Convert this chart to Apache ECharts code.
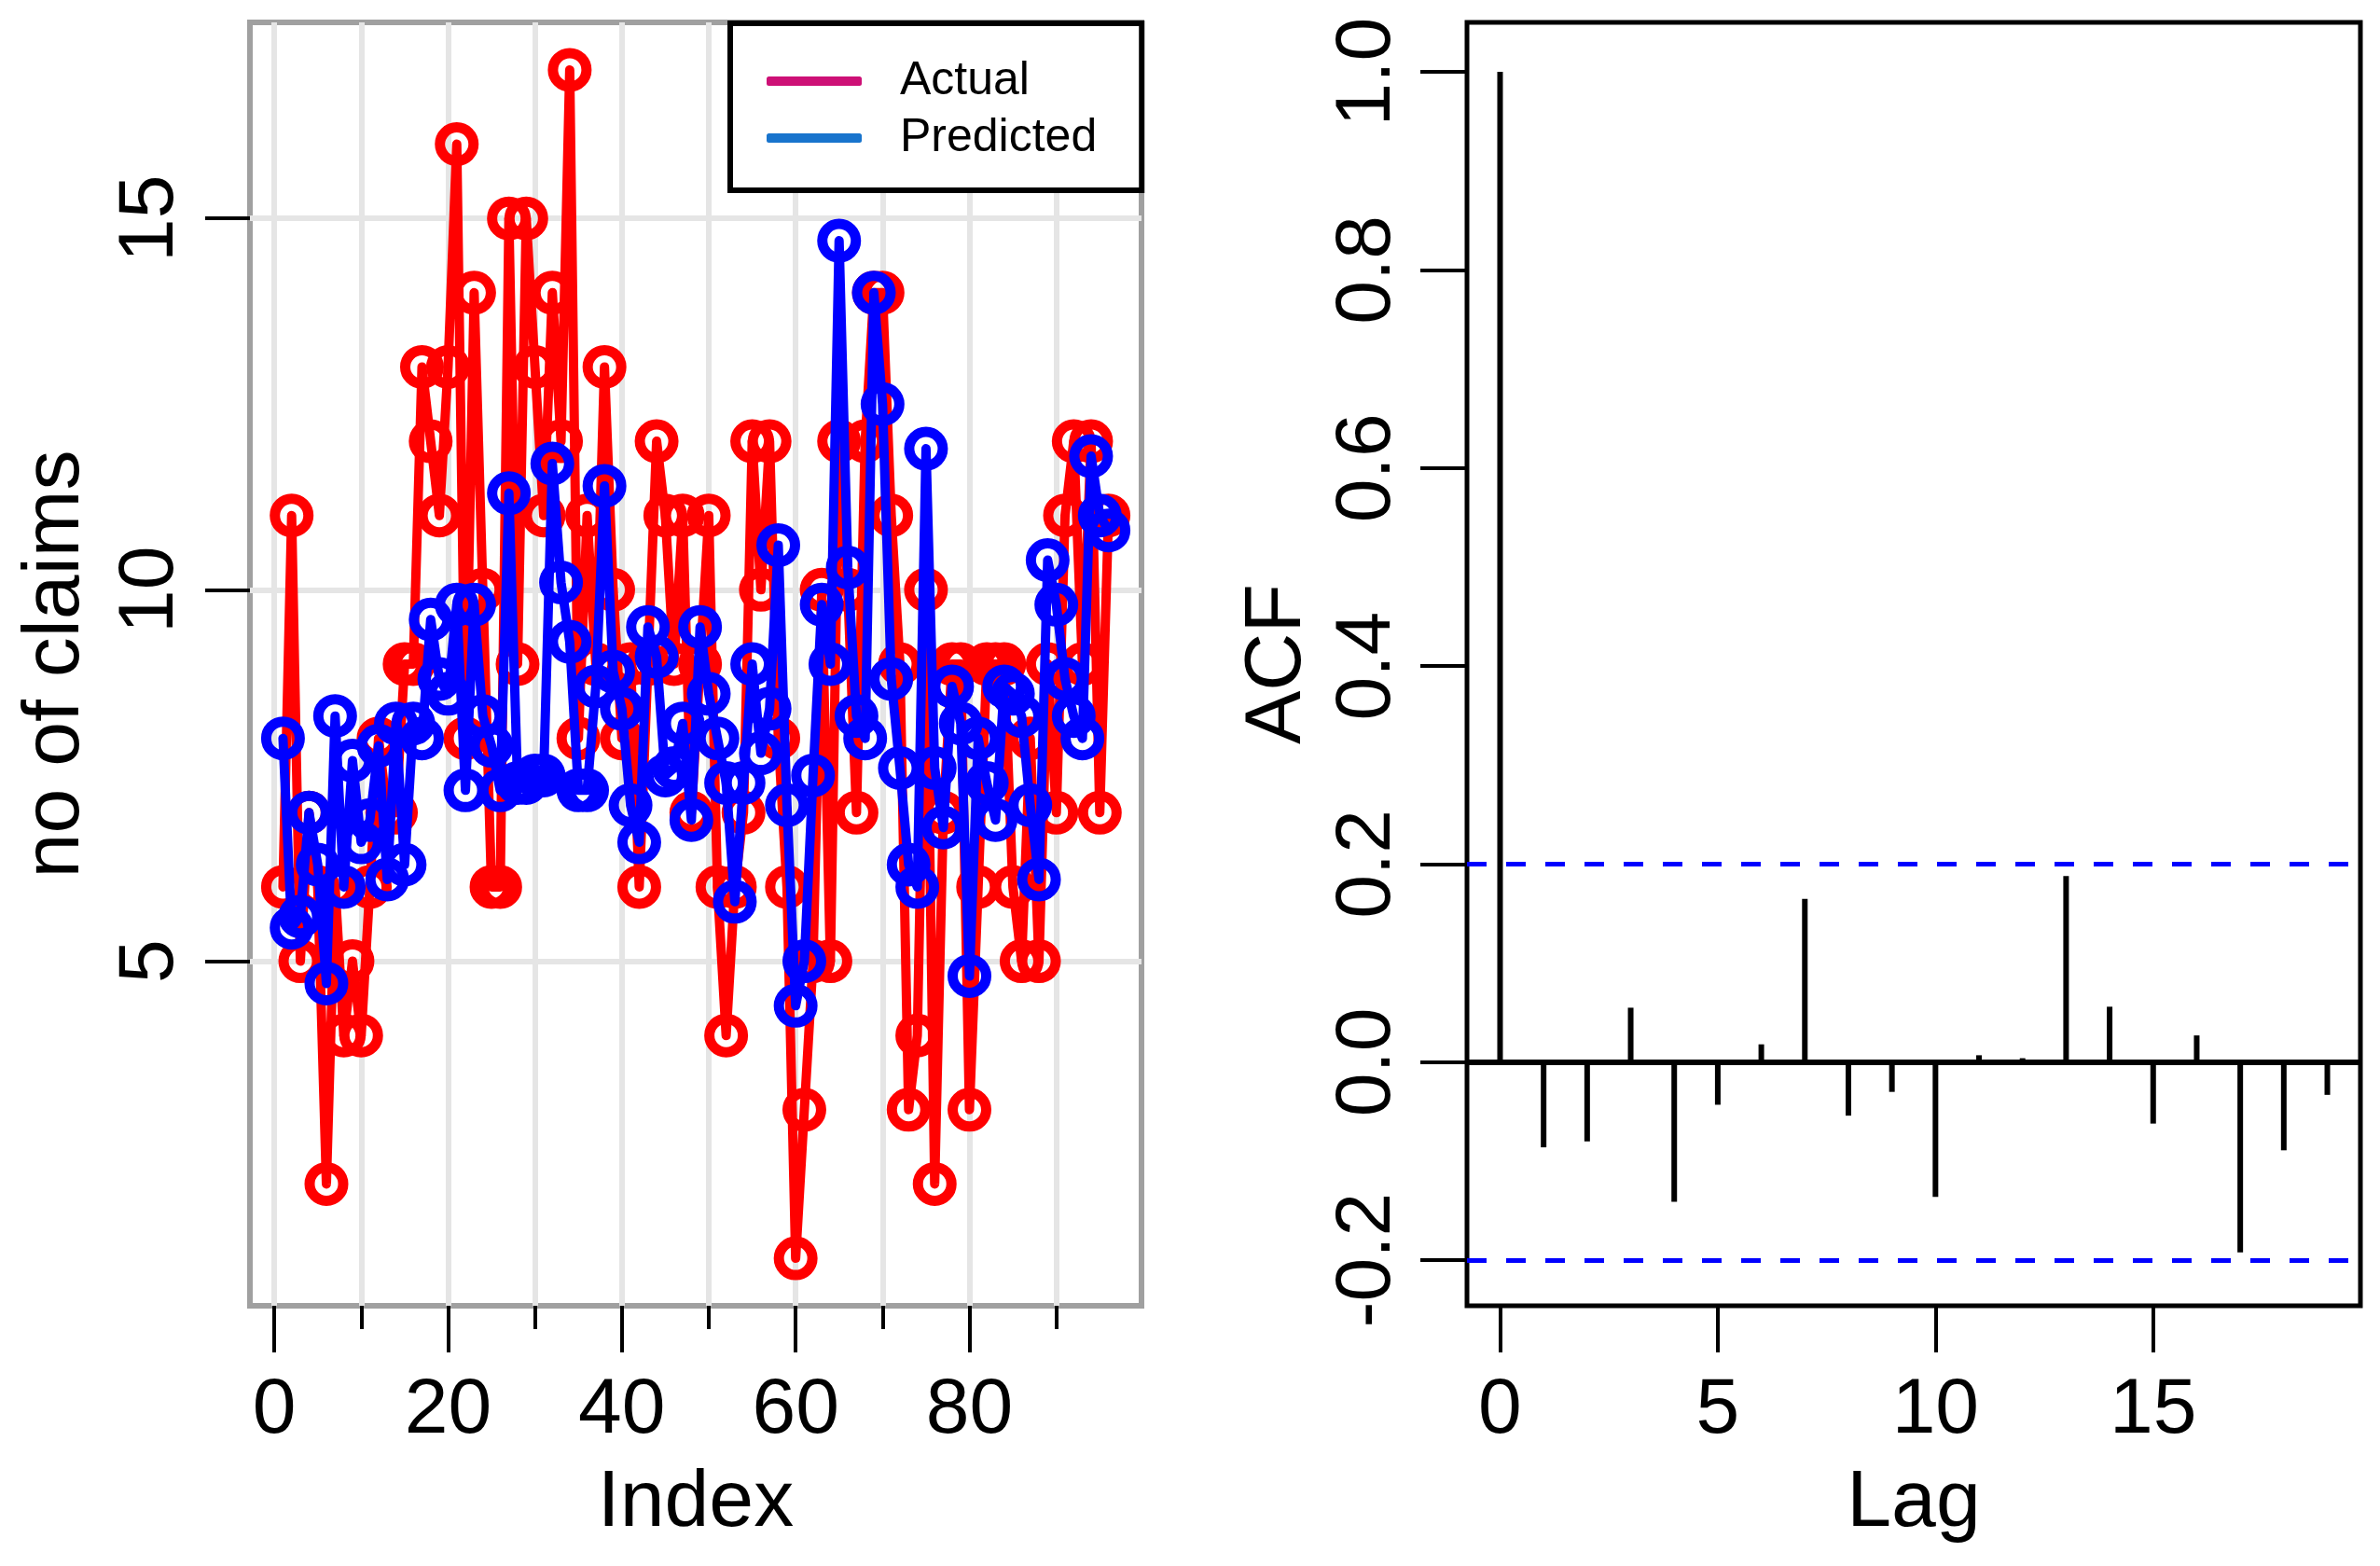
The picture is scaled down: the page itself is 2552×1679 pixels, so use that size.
<!DOCTYPE html>
<html>
<head>
<meta charset="utf-8">
<title>no of claims - actual vs predicted, ACF</title>
<script src="https://cdn.jsdelivr.net/npm/echarts@6/dist/echarts.min.js"></script>
<style>
  html, body { margin: 0; padding: 0; background: #fff; }
  #main { width: 2552px; height: 1679px; }
</style>
</head>
<body>
<div id="main"></div>
<script>
// left panel: claims per index
var index = [1,2,3,4,5,6,7,8,9,10,11,12,13,14,15,16,17,18,19,20,
  21,22,23,24,25,26,27,28,29,30,31,32,33,34,35,36,37,38,39,40,
  41,42,43,44,45,46,47,48,49,50,51,52,53,54,55,56,57,58,59,60,
  61,62,63,64,65,66,67,68,69,70,71,72,73,74,75,76,77,78,79,80,
  81,82,83,84,85,86,87,88,89,90,91,92,93,94,95,96];
var actual = [6,11,5,7,6,2,6,4,5,4,
  6,8,7,7,9,9,13,12,11,13,
  16,8,14,10,6,6,15,9,15,13,
  11,14,12,17,8,11,9,13,10,8,
  9,6,9,12,11,9,11,7,9,11,
  6,4,6,7,12,10,12,8,6,1,
  3,5,10,5,12,10,7,12,14,14,
  11,9,3,4,10,2,7,9,9,3,
  6,9,9,9,6,5,8,5,9,7,
  11,12,9,12,7,11];
var predicted = [8.0,5.45,5.6,7.0,6.3,4.7,8.3,6.0,7.7,6.6,
  6.9,7.9,6.1,8.2,6.3,8.2,8.0,9.6,8.8,8.6,
  9.8,7.3,9.8,8.3,7.9,7.3,11.3,7.4,7.4,7.5,
  7.5,11.7,10.1,9.3,7.3,7.3,8.7,11.4,8.9,8.4,
  7.1,6.6,9.5,9.1,7.5,7.6,8.2,6.9,9.5,8.6,
  8.0,7.4,5.8,7.4,9.0,7.8,8.4,10.6,7.1,4.4,
  5.0,7.5,9.8,9.0,14.7,10.3,8.3,8.0,14.0,12.5,
  8.8,7.6,6.3,6.0,11.9,7.6,6.8,8.7,8.2,4.8,
  8.0,7.4,6.9,8.7,8.6,8.3,7.1,6.1,10.4,9.8,
  8.8,8.3,8.0,11.8,11.0,10.8];
var idxLabels = [0, 20, 40, 60, 80];
var idxMinor = [10, 30, 50, 70, 90];
var idxGrid = [0, 10, 20, 30, 40, 50, 60, 70, 80, 90];
var claimTicks = [5, 10, 15];

// right panel: ACF of residuals
var lags = [0,1,2,3,4,5,6,7,8,9,10,11,12,13,14,15,16,17,18,19];
var acf = [1.0,-0.086,-0.080,0.055,-0.141,-0.043,0.018,0.165,-0.054,-0.030,
  -0.136,0.007,0.004,0.188,0.056,-0.062,0.027,-0.192,-0.089,-0.033];
var ciLimit = 0.2;
var lagTicks = [0, 5, 10, 15];
var acfTicks = [-0.2, 0.0, 0.2, 0.4, 0.6, 0.8, 1.0];

var FONT = "'Liberation Sans', Arial, sans-serif";

function pairs(xs, ys) {
  return ys.map(function (v, i) { return [xs[i], v]; });
}

var myChart = echarts.init(document.getElementById('main'));

var tickStyle = { color: '#000', width: 4 };
var nameStyle = { fontSize: 86, color: '#000', fontFamily: FONT };
var noLine = { show: false, onZero: false };

option = {
  animation: false,
  backgroundColor: '#fff',
  grid: [
    { left: 268, top: 24, width: 956, height: 1376, show: true,
      borderColor: '#a0a0a0', borderWidth: 6, backgroundColor: '#fff' },
    { left: 1573, top: 24, width: 958, height: 1376, show: true,
      borderColor: '#000', borderWidth: 5, backgroundColor: '#fff' }
  ],
  legend: {
    orient: 'vertical',
    left: 783, top: 25,
    padding: [37, 48, 31, 39],
    itemGap: 11,
    itemWidth: 102, itemHeight: 10,
    icon: 'roundRect',
    backgroundColor: '#fff',
    borderColor: '#000', borderWidth: 6, borderRadius: 0,
    selectedMode: false,
    textStyle: { fontSize: 50, color: '#000', fontFamily: FONT, padding: [0, 0, 0, 36] },
    data: [
      { name: 'Actual', itemStyle: { color: '#CD1076', borderWidth: 0 } },
      { name: 'Predicted', itemStyle: { color: '#1874CD', borderWidth: 0 } }
    ]
  },
  xAxis: [
    { gridIndex: 0, type: 'value', position: 'bottom', min: -2.8, max: 99.8,
      axisLine: noLine, splitLine: { show: false },
      axisTick: { show: true, customValues: idxLabels, length: 50, lineStyle: tickStyle },
      axisLabel: { customValues: idxLabels, margin: 71, fontSize: 84, color: '#000', fontFamily: FONT },
      name: 'Index', nameLocation: 'middle', nameGap: 169, nameTextStyle: nameStyle },
    { gridIndex: 0, type: 'value', position: 'bottom', min: -2.8, max: 99.8,
      axisLine: noLine, splitLine: { show: false },
      axisTick: { show: true, customValues: idxMinor, length: 25, lineStyle: tickStyle },
      axisLabel: { show: false } },
    { gridIndex: 1, type: 'value', position: 'bottom', min: -0.76, max: 19.76,
      axisLine: noLine, splitLine: { show: false },
      axisTick: { show: true, customValues: lagTicks, length: 50, lineStyle: tickStyle },
      axisLabel: { customValues: lagTicks, margin: 71, fontSize: 84, color: '#000', fontFamily: FONT },
      name: 'Lag', nameLocation: 'middle', nameGap: 169, nameTextStyle: nameStyle }
  ],
  yAxis: [
    { gridIndex: 0, type: 'value', position: 'left', min: 0.36, max: 17.64,
      axisLine: noLine, splitLine: { show: false },
      axisTick: { show: true, customValues: claimTicks, length: 48, lineStyle: tickStyle },
      axisLabel: { customValues: claimTicks, rotate: 90, margin: 64, fontSize: 84, color: '#000', fontFamily: FONT },
      name: 'no of claims', nameLocation: 'middle', nameGap: 165, nameRotate: 90, nameTextStyle: nameStyle },
    { gridIndex: 1, type: 'value', position: 'left', min: -0.246, max: 1.05,
      axisLine: noLine, splitLine: { show: false },
      axisTick: { show: true, customValues: acfTicks, length: 50, lineStyle: tickStyle },
      axisLabel: { customValues: acfTicks, rotate: 90, margin: 64, fontSize: 84, color: '#000', fontFamily: FONT,
        formatter: function (v) { return v.toFixed(1); } },
      name: 'ACF', nameLocation: 'middle', nameGap: 160, nameRotate: 90, nameTextStyle: nameStyle }
  ],
  series: [
    // light grey grid of the left panel
    { type: 'line', xAxisIndex: 0, yAxisIndex: 0, data: [], silent: true, z: 1,
      markLine: {
        silent: true, symbol: 'none', z: 1, animation: false,
        label: { show: false },
        lineStyle: { color: '#e5e5e5', width: 6, type: 'solid' },
        emphasis: { disabled: true },
        data: idxGrid.map(function (v) { return { xAxis: v }; })
          .concat(claimTicks.map(function (v) { return { yAxis: v }; }))
      } },
    { name: 'Actual', type: 'line', xAxisIndex: 0, yAxisIndex: 0, z: 3,
      data: pairs(index, actual),
      symbol: 'circle', symbolSize: 36,
      lineStyle: { color: '#ff0000', width: 10, cap: 'round', join: 'round' },
      itemStyle: { color: 'rgba(0,0,0,0)', borderColor: '#ff0000', borderWidth: 11 },
      emphasis: { disabled: true } },
    { name: 'Predicted', type: 'line', xAxisIndex: 0, yAxisIndex: 0, z: 4,
      data: pairs(index, predicted),
      symbol: 'circle', symbolSize: 36,
      lineStyle: { color: '#0000ff', width: 10, cap: 'round', join: 'round' },
      itemStyle: { color: 'rgba(0,0,0,0)', borderColor: '#0000ff', borderWidth: 11 },
      emphasis: { disabled: true } },
    // ACF spikes
    { type: 'bar', xAxisIndex: 2, yAxisIndex: 1, barWidth: 6,
      data: pairs(lags, acf),
      itemStyle: { color: '#000' },
      emphasis: { disabled: true },
      markLine: {
        silent: true, symbol: 'none', animation: false,
        label: { show: false },
        emphasis: { disabled: true },
        data: [
          { yAxis: 0, lineStyle: { color: '#000', width: 6, type: 'solid' } },
          { yAxis: ciLimit, lineStyle: { color: '#0000ff', width: 5, type: [21, 21] } },
          { yAxis: -ciLimit, lineStyle: { color: '#0000ff', width: 5, type: [21, 21] } }
        ]
      } }
  ]
};
myChart.setOption(option);
</script>
</body>
</html>
